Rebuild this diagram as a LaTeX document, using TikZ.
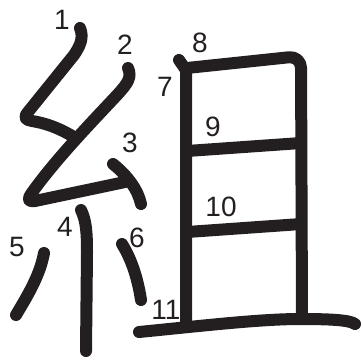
\documentclass[tikz,border=0pt]{standalone}
\usepackage{fontspec}
\setmainfont{Liberation Sans}
\usepackage{tikz}
\usetikzlibrary{positioning,calc}
\definecolor{ink}{HTML}{231F20}
\tikzset{
  brush/.style={draw=ink, line width=12pt, line cap=round, line join=round},
  num/.style={font=\fontsize{28}{28}\selectfont, text=ink, inner sep=0pt, anchor=center}
}

\begin{document}
\begin{tikzpicture}[x=1pt, y=-1pt]
  \useasboundingbox (0,0) rectangle (363,362);

  %% Left radical
  \draw[brush] (80,28) .. controls (84,38) and (80,46) .. (74,55) -- (28,112)
        .. controls (23,118) and (26,120) .. (32,121) .. controls (50,124) and (62,130) .. (74,137);
  \draw[brush] (128,68) .. controls (132,77) and (128,83) .. (118,94)
        .. controls (90,124) and (55,160) .. (31,194) .. controls (27,200) and (29,202) .. (35,201) -- (125,182);
  \draw[brush] (113,164) .. controls (128,176) and (138,190) .. (141,204);
  \draw[brush] (81,210) .. controls (86,220) and (87,232) .. (87,252) -- (86,351);
  \draw[brush] (44,253) .. controls (40,275) and (28,295) .. (16,315);
  \draw[brush] (122,244) .. controls (132,260) and (138,280) .. (141,300);

  %% Right part
  \draw[brush] (179,60) -- (186,70) -- (186,324);
  \draw[brush, rounded corners=12pt] (187,68) -- (301,56) -- (302,318);
  \draw[brush] (187,151) -- (301,143);
  \draw[brush] (187,232) -- (301,224);
  \draw[brush] (139,332) .. controls (200,326) and (260,319) .. (300,319)
        .. controls (330,319) and (350,320) .. (355,324);

  %% Stroke numbers
  \node[num] (n1)  at (62,20)   {1};
  \node[num] (n2)  at (125,45)  {2};
  \node[num] (n3)  at (130,143) {3};
  \node[num] (n4)  at (65,227)  {4};
  \node[num] (n5)  at (17,247)  {5};
  \node[num] (n6)  at (137,238) {6};
  \node[num] (n7)  at (165,87)  {7};
  \node[num] (n8)  at (200,43)  {8};
  \node[num] (n9)  at (213,127) {9};
  \node[num] (n10) at (221,207) {10};
  \node[num] (n11) at (166,310) {11};

\end{tikzpicture}
\end{document}
